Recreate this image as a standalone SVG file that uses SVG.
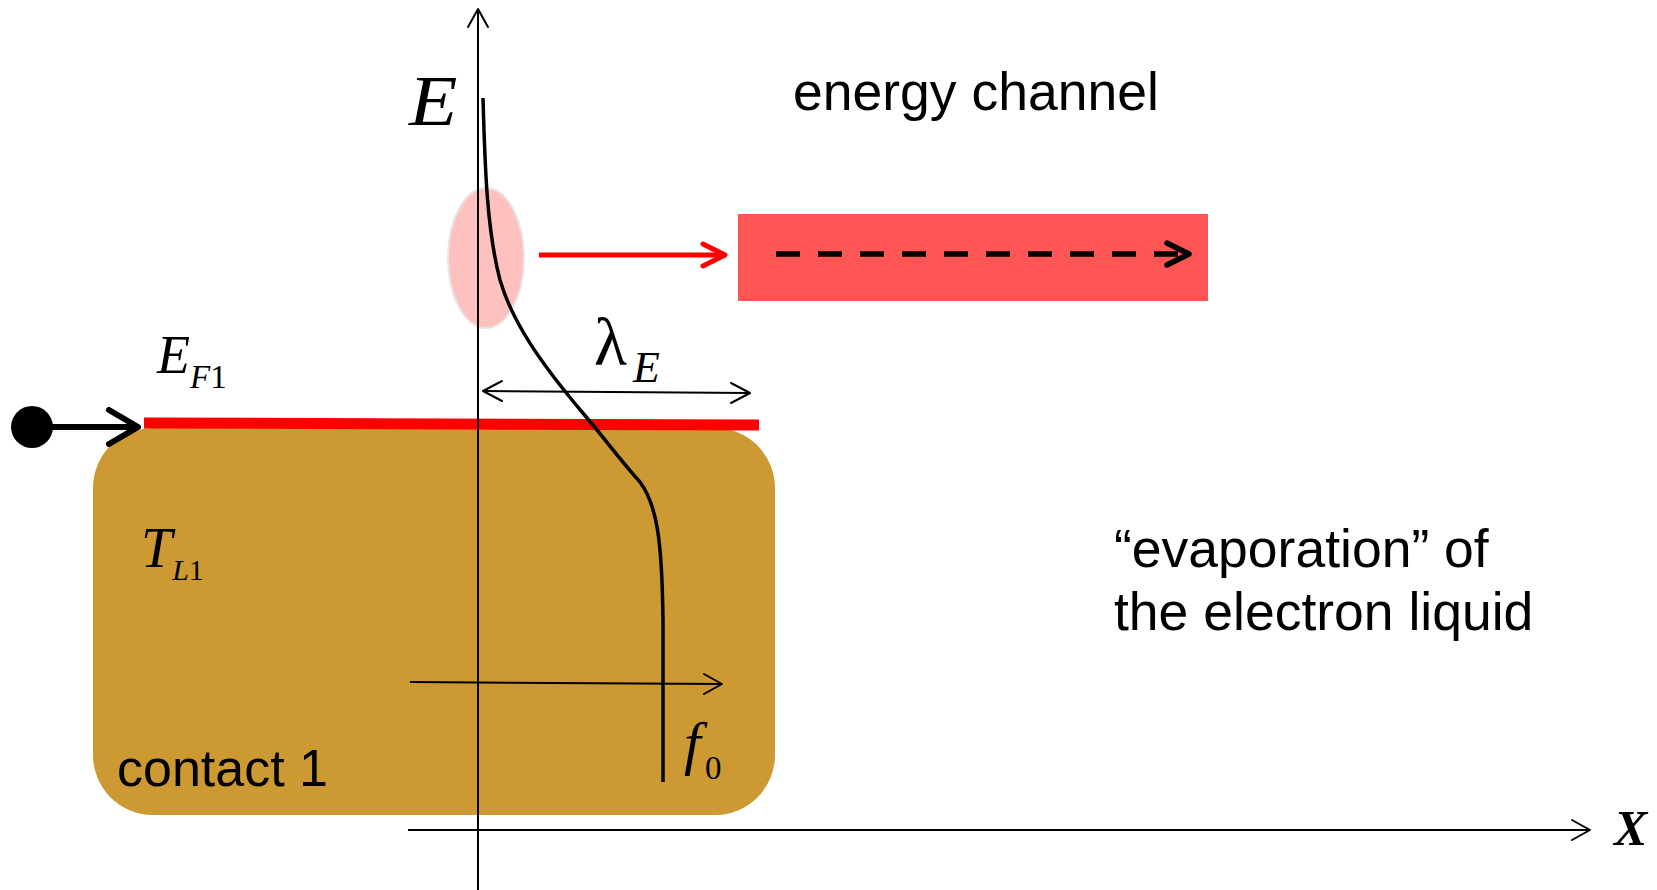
<svg xmlns="http://www.w3.org/2000/svg" width="1657" height="890" viewBox="0 0 1657 890">
<style>
.sans{font-family:"Liberation Sans",Arial,sans-serif;fill:#000}
.math{font-family:"Liberation Serif","Times New Roman",serif;font-style:italic;fill:#000}
.up{font-style:normal}
.ax{stroke:#000;stroke-width:2;fill:none}
.chev{fill:none;stroke-linecap:round;stroke-linejoin:round}
</style>
<rect width="1657" height="890" fill="#fff"/>
<g id="contact1">
<rect x="93" y="428" width="682" height="387" rx="60" ry="60" fill="#CC9933"/>
<text class="sans" x="117" y="786" font-size="52">contact 1</text>
<text class="math" x="141" y="567" font-size="56">T<tspan font-size="30" dy="13">L</tspan><tspan class="up" font-size="30">1</tspan></text>
</g>
<g id="fermi-level">
<line x1="144" y1="423" x2="759" y2="425" stroke="#FF0000" stroke-width="11"/>
<text class="math" x="157" y="373" font-size="54">E<tspan font-size="33" dy="15">F</tspan><tspan class="up" font-size="33">1</tspan></text>
</g>
<g id="energy-channel">
<rect x="738" y="214" width="470" height="87" fill="#FF5555"/>
<text class="sans" x="793" y="110" font-size="53.5">energy channel</text>
</g>
<g id="hot-electrons">
<ellipse cx="486" cy="258" rx="38" ry="70" fill="#FFC0C0" stroke="#E6E6E6" stroke-width="2"/>
</g>
<g id="evaporation-label">
<text class="sans" x="1114" y="567" font-size="53.5">“evaporation” of</text>
<text class="sans" x="1114" y="630" font-size="53.5">the electron liquid</text>
</g>
<g id="axes">
<line class="ax" x1="478" y1="9" x2="478" y2="890"/>
<polyline class="ax chev" points="468,27 478,9 488,27"/>
<text class="math" x="409" y="125" font-size="72" transform="translate(409 125) scale(1.1 1) translate(-409 -125)">E</text>
<line class="ax" x1="408" y1="830" x2="1589" y2="830"/>
<polyline class="ax chev" points="1572,820 1590,830 1572,840"/>
<text class="math" x="1614" y="845" font-size="50" font-weight="bold">X</text>
<line class="ax" x1="410" y1="682" x2="721" y2="684"/>
<polyline class="ax chev" points="704,674 722,684 704,694"/>
<text class="math" x="684" y="763" font-size="60">f</text>
<text class="math up" x="705" y="779" font-size="33">0</text>
</g>
<g id="connectors">
<path d="M483,98 C485,170 487,230 500,280 C513,325 545,368 582,412 C606,440 620,460 640,482 C657,505 662,540 663,620 L663,782" fill="none" stroke="#000" stroke-width="3.5"/>
<line x1="484" y1="391" x2="749" y2="393" stroke="#000" stroke-width="2"/>
<polyline class="chev" points="502,381 483,391 502,401" stroke="#000" stroke-width="2"/>
<polyline class="chev" points="731,383 750,393 731,403" stroke="#000" stroke-width="2"/>
<text class="math up" x="594" y="365" font-size="68">λ</text>
<text class="math" x="633" y="382" font-size="44">E</text>
<line x1="539" y1="255" x2="723" y2="255" stroke="#FF0000" stroke-width="5"/>
<polyline class="chev" points="703,244 725,255 703,266" stroke="#FF0000" stroke-width="5"/>
<line x1="776" y1="254" x2="1186" y2="254" stroke="#000" stroke-width="5.5" stroke-dasharray="24 18"/>
<polyline class="chev" points="1167,243 1189,254 1167,265" stroke="#000" stroke-width="5.5"/>
<circle cx="32" cy="427" r="21" fill="#000"/>
<line x1="50" y1="427" x2="136" y2="427" stroke="#000" stroke-width="6"/>
<polyline class="chev" points="109,410 138,427 109,444" stroke="#000" stroke-width="6"/>
</g>
</svg>
